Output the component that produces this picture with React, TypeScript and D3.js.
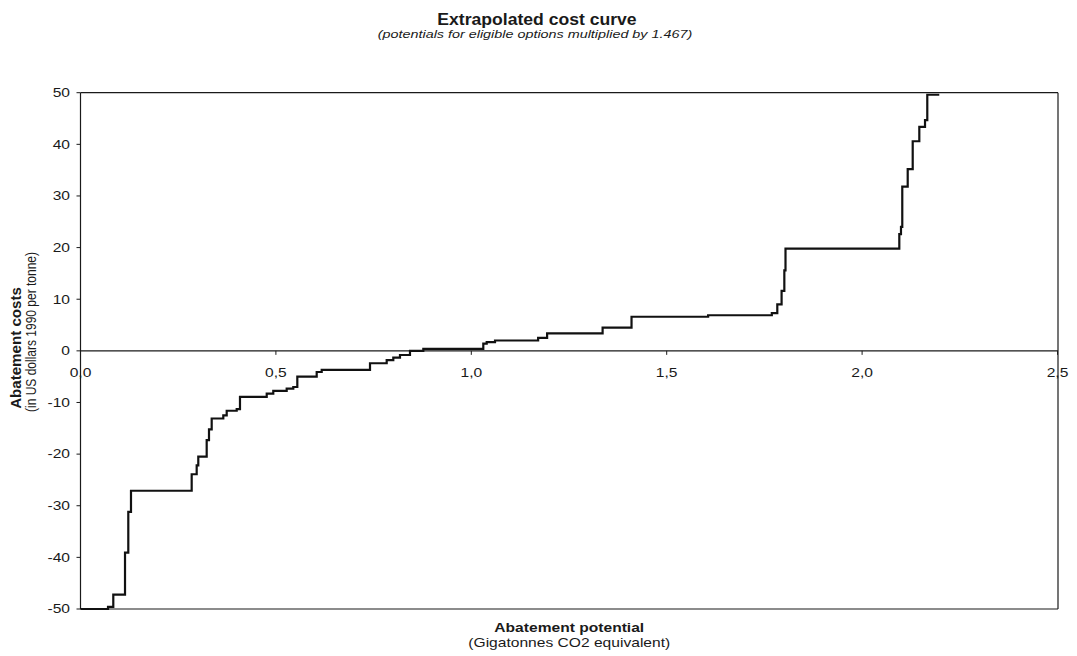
import React from "react";
import * as d3 from "d3";

// Cumulative abatement potential (Gt CO2-eq) where each cost level begins
const stepPotential = [
  0, 0.0704, 0.0839, 0.1139, 0.1223, 0.1292, 0.2845, 0.2973, 0.3014, 0.3229,
  0.3288, 0.3357, 0.3654, 0.3741, 0.3997, 0.4081, 0.4765, 0.4933, 0.5276,
  0.5445, 0.5548, 0.6044, 0.6172, 0.7408, 0.7835, 0.8004, 0.8175, 0.8431,
  0.8772, 1.0307, 1.0394, 1.0607, 1.171, 1.194, 1.336, 1.41, 1.606, 1.769,
  1.783, 1.794, 1.801, 1.804, 2.0952, 2.0995, 2.1028, 2.1167, 2.1295, 2.1464,
  2.161, 2.1668, 2.1975,
];
// Abatement cost (US$ 1990 per tonne) of each step
const stepCost = [
  -50, -49.6, -47.2, -39.1, -31.2, -27.1, -23.9, -22.2, -20.5, -17.3, -15.2,
  -13.1, -12.5, -11.6, -11.3, -8.9, -8.3, -7.75, -7.3, -7.0, -5.0, -4.1, -3.7,
  -2.4, -1.8, -1.3, -0.8, 0, 0.4, 1.4, 1.7, 2.0, 2.5, 3.4, 4.5, 6.6, 6.9, 7.3,
  9.0, 11.6, 15.6, 19.8, 22.6, 24, 31.8, 35.2, 40.6, 43.4, 44.7, 49.6, 49.6,
];

const xTicks = [0, 0.5, 1.0, 1.5, 2.0, 2.5];
const yTicks = [-50, -40, -30, -20, -10, 0, 10, 20, 30, 40, 50];

const titleText = "Extrapolated cost curve";
const subtitleText = "(potentials for eligible options multiplied by 1.467)";
const xTitle = "Abatement potential";
const xSubtitle = "(Gigatonnes CO2 equivalent)";
const yTitle = "Abatement costs";
const ySubtitle = "(in US dollars 1990 per tonne)";

const W = 1077;
const H = 656;
const left = 80.5;
const right = 1058;
const top = 92.7;
const bottom = 609;

const font = "'Liberation Sans', Arial, sans-serif";
const ink = "#1a1a1a";

// Text in a wide face: sx stretches along the baseline, sy across it
function WideText(props: {
  x: number;
  y: number;
  sx: number;
  sy?: number;
  rotate?: number;
  size: number;
  anchor?: "start" | "middle" | "end";
  weight?: string;
  italic?: boolean;
  children: React.ReactNode;
}) {
  const { x, y, sx, sy = 1, rotate = 0, size, anchor = "middle", weight = "normal", italic = false } = props;
  return (
    <text
      transform={`translate(${x},${y}) rotate(${rotate}) scale(${sx},${sy})`}
      textAnchor={anchor}
      fontSize={size}
      fontWeight={weight}
      fontStyle={italic ? "italic" : "normal"}
      fontFamily={font}
      fill={ink}
    >
      {props.children}
    </text>
  );
}

export default function App() {
  const x = d3.scaleLinear().domain([0, 2.5]).range([left, 1057.5]);
  const y = d3.scaleLinear().domain([-50, 50]).range([bottom, top]);

  const pts: [number, number][] = stepPotential.map((p, i) => [p, stepCost[i]]);
  const line = d3
    .line<[number, number]>()
    .x((d) => x(d[0]))
    .y((d) => y(d[1]))
    .curve(d3.curveStepAfter);

  const fmtX = (v: number) => d3.format(".1f")(v).replace(".", ",");
  const midX = (left + right) / 2;

  return (
    <div style={{ position: "absolute", left: 0, top: 0 }}>
      <svg width={W} height={H} style={{ display: "block", background: "#fff" }}>
        {/* titles */}
        <WideText x={537} y={25} sx={1.1} size={16} weight="bold">
          {titleText}
        </WideText>
        <WideText x={535} y={37.5} sx={1.25} size={11.5} italic>
          {subtitleText}
        </WideText>

        {/* plot frame */}
        <line x1={left} x2={right} y1={top} y2={top} stroke={ink} strokeWidth={1.2} />
        <line x1={right} x2={right} y1={top} y2={bottom} stroke={ink} strokeWidth={1.2} />
        <line x1={left} x2={right} y1={bottom} y2={bottom} stroke={ink} strokeWidth={1.2} />
        <line x1={left} x2={left} y1={top} y2={bottom} stroke={ink} strokeWidth={1.2} />

        {/* y axis ticks */}
        {yTicks.map((t) => (
          <g key={t}>
            <line x1={left - 4} x2={left} y1={y(t)} y2={y(t)} stroke={ink} strokeWidth={1} />
            <WideText x={70} y={y(t) + 4.3} sx={1.3} size={12} anchor="end">
              {t}
            </WideText>
          </g>
        ))}

        {/* x axis along zero cost */}
        <line x1={left} x2={right} y1={y(0)} y2={y(0)} stroke={ink} strokeWidth={1.2} />
        {xTicks.map((t) => (
          <g key={t}>
            <line x1={x(t)} x2={x(t)} y1={y(0)} y2={y(0) + 4} stroke={ink} strokeWidth={1} />
            <WideText x={x(t)} y={y(0) + 26} sx={1.3} size={12}>
              {fmtX(t)}
            </WideText>
          </g>
        ))}

        {/* cost curve */}
        <path d={line(pts) ?? ""} fill="none" stroke="#111" strokeWidth={2.2} strokeLinejoin="miter" />

        {/* axis titles */}
        <WideText x={midX} y={632} sx={1.3} size={12} weight="bold">
          {xTitle}
        </WideText>
        <WideText x={midX} y={647} sx={1.3} size={12}>
          {xSubtitle}
        </WideText>
        <WideText x={21} y={348} rotate={-90} sx={1.12} sy={1.1} size={13.5} weight="bold">
          {yTitle}
        </WideText>
        <WideText x={36} y={332} rotate={-90} sx={1.0} sy={1.25} size={12}>
          {ySubtitle}
        </WideText>
      </svg>
    </div>
  );
}
